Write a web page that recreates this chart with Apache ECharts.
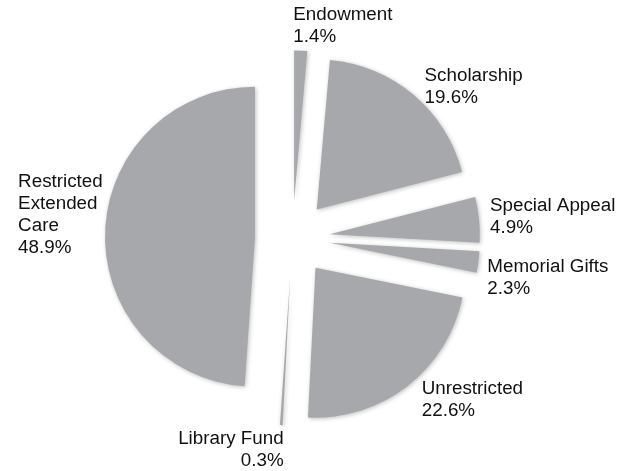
<!DOCTYPE html>
<html>
<head>
<meta charset="utf-8">
<script src="https://cdn.jsdelivr.net/npm/echarts@6/dist/echarts.min.js"></script>
<style>html,body{margin:0;padding:0;background:#fff;}#c{width:626px;height:471px;}</style>
</head>
<body>
<div id="c"></div>
<script>
const categories = ['Endowment', 'Scholarship', 'Special Appeal', 'Memorial Gifts', 'Unrestricted', 'Library Fund', 'Restricted\nExtended\nCare'];
const values = [1.4, 19.6, 4.9, 2.3, 22.6, 0.3, 48.9];

// label nudges (style only)
const labelShift = [[-13, -13], [-2, 1], [-6, -2], [-8, 14], [2, 4], [8, 13], [-70, -16]];

const chart = echarts.init(document.getElementById('c'));
chart.setOption({
  animation: false,
  backgroundColor: '#ffffff',
  series: [{
    type: 'pie',
    center: [292.5, 238],
    radius: 150,
    startAngle: 90,
    clockwise: true,
    selectedMode: 'multiple',
    selectedOffset: 37.5,
    avoidLabelOverlap: false,
    itemStyle: {
      color: '#a7a8ac',
      shadowBlur: 4,
      shadowColor: 'rgba(0,0,0,0.25)',
      shadowOffsetX: 1,
      shadowOffsetY: 1
    },
    label: {
      show: true,
      position: 'outside',
      fontFamily: 'Liberation Sans, Arial, sans-serif',
      fontSize: 18.8,
      lineHeight: 22,
      color: '#111',
      formatter: p => p.name + '\n' + p.value.toFixed(1) + '%'
    },
    labelLine: { show: false, length: 12, length2: 0 },
    labelLayout: function (p) {
      const s = labelShift[p.dataIndex];
      const r = { dx: s[0], dy: s[1] };
      if (p.dataIndex === 6) {
        r.x = p.labelRect.x;
        r.align = 'left';
      }
      return r;
    },
    emphasis: { disabled: true },
    data: categories.map((n, i) => ({ name: n, value: values[i], selected: true }))
  }]
});
</script>
</body>
</html>
